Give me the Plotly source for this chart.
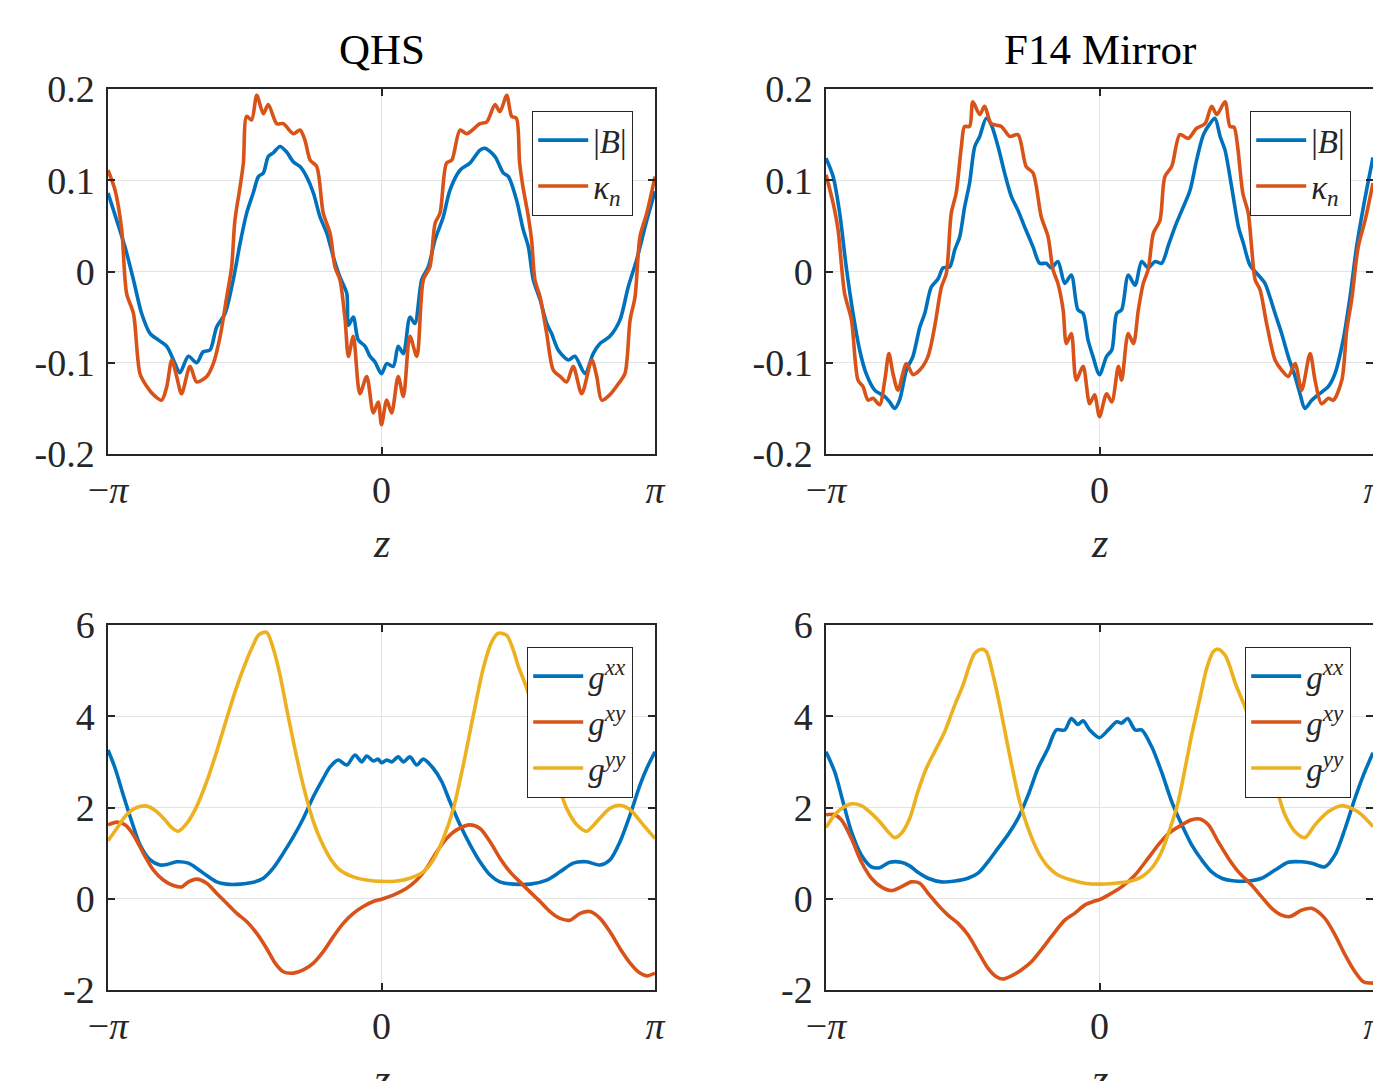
import numpy as np
import plotly.graph_objects as go

# ---------------- data (z given in units of pi) ----------------
QHS_B = [(-1.0, 0.086), (-0.968, 0.056), (-0.938, 0.027), (-0.907, -0.009), (-0.877, -0.046),
         (-0.846, -0.068), (-0.816, -0.075), (-0.785, -0.082), (-0.755, -0.101), (-0.737, -0.111),
         (-0.706, -0.093), (-0.676, -0.100), (-0.652, -0.088), (-0.627, -0.086), (-0.603, -0.061),
         (-0.572, -0.046), (-0.542, -0.009), (-0.517, 0.031), (-0.493, 0.064), (-0.469, 0.086),
         (-0.450, 0.104), (-0.432, 0.108), (-0.414, 0.126), (-0.396, 0.130), (-0.371, 0.137),
         (-0.347, 0.131), (-0.322, 0.120), (-0.298, 0.115), (-0.274, 0.104), (-0.249, 0.086),
         (-0.225, 0.060), (-0.200, 0.042), (-0.176, 0.016), (-0.152, -0.006), (-0.127, -0.024),
         (-0.121, -0.059), (-0.103, -0.050), (-0.085, -0.075), (-0.060, -0.082), (-0.042, -0.093),
         (-0.024, -0.099), (0.0, -0.112), (0.019, -0.101), (0.043, -0.104), (0.061, -0.082),
         (0.080, -0.090), (0.104, -0.050), (0.122, -0.057), (0.147, -0.009), (0.171, 0.005),
         (0.196, 0.035), (0.226, 0.060), (0.250, 0.089), (0.287, 0.111), (0.324, 0.119),
         (0.360, 0.133), (0.378, 0.135), (0.415, 0.126), (0.445, 0.108), (0.464, 0.104),
         (0.494, 0.078), (0.518, 0.046), (0.537, 0.027), (0.555, -0.009), (0.580, -0.031),
         (0.604, -0.057), (0.622, -0.068), (0.646, -0.086), (0.683, -0.097), (0.707, -0.093),
         (0.744, -0.112), (0.774, -0.090), (0.799, -0.079), (0.835, -0.071), (0.872, -0.053),
         (0.902, -0.017), (0.933, 0.013), (0.970, 0.056), (1.0, 0.088)]

QHS_KN = [(-1.0, 0.111), (-0.974, 0.089), (-0.950, 0.046), (-0.932, -0.024), (-0.907, -0.046),
          (-0.883, -0.112), (-0.858, -0.126), (-0.834, -0.135), (-0.804, -0.141), (-0.785, -0.126),
          (-0.767, -0.097), (-0.749, -0.115), (-0.731, -0.134), (-0.700, -0.104), (-0.676, -0.121),
          (-0.639, -0.115), (-0.615, -0.101), (-0.590, -0.071), (-0.566, -0.028), (-0.548, 0.005),
          (-0.536, 0.056), (-0.517, 0.093), (-0.505, 0.119), (-0.493, 0.170), (-0.475, 0.166),
          (-0.456, 0.193), (-0.432, 0.173), (-0.414, 0.183), (-0.383, 0.162), (-0.359, 0.162),
          (-0.322, 0.151), (-0.298, 0.155), (-0.280, 0.144), (-0.261, 0.122), (-0.237, 0.115),
          (-0.213, 0.064), (-0.188, 0.042), (-0.170, 0.005), (-0.152, -0.009), (-0.133, -0.053),
          (-0.121, -0.093), (-0.103, -0.071), (-0.079, -0.134), (-0.054, -0.115), (-0.030, -0.155),
          (-0.012, -0.143), (0.0, -0.168), (0.019, -0.141), (0.037, -0.155), (0.061, -0.115),
          (0.080, -0.137), (0.104, -0.071), (0.129, -0.093), (0.153, -0.009), (0.177, 0.005),
          (0.196, 0.053), (0.214, 0.064), (0.238, 0.119), (0.257, 0.122), (0.287, 0.155),
          (0.312, 0.151), (0.360, 0.162), (0.385, 0.164), (0.415, 0.183), (0.433, 0.175),
          (0.458, 0.193), (0.476, 0.170), (0.493, 0.168), (0.505, 0.119), (0.517, 0.093),
          (0.537, 0.060), (0.549, 0.034), (0.561, -0.009), (0.580, -0.028), (0.604, -0.068),
          (0.628, -0.108), (0.653, -0.115), (0.677, -0.121), (0.701, -0.104), (0.732, -0.134),
          (0.769, -0.097), (0.787, -0.115), (0.805, -0.141), (0.835, -0.135), (0.866, -0.123),
          (0.890, -0.112), (0.909, -0.053), (0.927, -0.028), (0.945, 0.038), (0.970, 0.064),
          (1.0, 0.104)]

F14_B = [(-1.0, 0.124), (-0.974, 0.104), (-0.950, 0.064), (-0.926, 0.005), (-0.901, -0.046),
         (-0.877, -0.086), (-0.853, -0.112), (-0.822, -0.130), (-0.785, -0.137), (-0.767, -0.143),
         (-0.749, -0.150), (-0.731, -0.141), (-0.706, -0.108), (-0.682, -0.093), (-0.657, -0.061),
         (-0.639, -0.046), (-0.615, -0.017), (-0.590, -0.008), (-0.572, 0.004), (-0.548, 0.005),
         (-0.529, 0.024), (-0.511, 0.038), (-0.493, 0.071), (-0.475, 0.097), (-0.456, 0.137),
         (-0.438, 0.148), (-0.414, 0.168), (-0.396, 0.161), (-0.371, 0.137), (-0.347, 0.108),
         (-0.322, 0.082), (-0.298, 0.067), (-0.274, 0.049), (-0.243, 0.027), (-0.219, 0.009),
         (-0.195, 0.009), (-0.176, 0.004), (-0.152, 0.011), (-0.127, -0.013), (-0.103, -0.004),
         (-0.079, -0.042), (-0.060, -0.046), (-0.042, -0.075), (-0.024, -0.093), (0.0, -0.113),
         (0.026, -0.093), (0.045, -0.086), (0.063, -0.046), (0.081, -0.042), (0.105, -0.004),
         (0.130, -0.015), (0.154, 0.011), (0.178, 0.004), (0.203, 0.011), (0.227, 0.009),
         (0.252, 0.029), (0.276, 0.049), (0.301, 0.067), (0.331, 0.089), (0.355, 0.122),
         (0.380, 0.150), (0.404, 0.162), (0.422, 0.168), (0.441, 0.148), (0.459, 0.133),
         (0.483, 0.093), (0.508, 0.049), (0.526, 0.031), (0.550, 0.007), (0.575, -0.002),
         (0.605, -0.013), (0.623, -0.028), (0.642, -0.046), (0.666, -0.068), (0.690, -0.093),
         (0.715, -0.115), (0.733, -0.134), (0.751, -0.150), (0.776, -0.141), (0.800, -0.135),
         (0.837, -0.126), (0.861, -0.112), (0.891, -0.075), (0.916, -0.028), (0.940, 0.027),
         (0.965, 0.071), (1.0, 0.125)]

F14_KN = [(-1.0, 0.106), (-0.974, 0.075), (-0.956, 0.046), (-0.932, -0.024), (-0.907, -0.053),
          (-0.883, -0.119), (-0.865, -0.126), (-0.846, -0.141), (-0.828, -0.139), (-0.804, -0.146),
          (-0.785, -0.119), (-0.770, -0.090), (-0.755, -0.112), (-0.737, -0.130), (-0.706, -0.101),
          (-0.682, -0.113), (-0.657, -0.108), (-0.627, -0.093), (-0.603, -0.061), (-0.578, -0.017),
          (-0.560, -0.002), (-0.542, 0.064), (-0.524, 0.086), (-0.505, 0.137), (-0.493, 0.159),
          (-0.475, 0.159), (-0.463, 0.186), (-0.438, 0.172), (-0.420, 0.181), (-0.396, 0.162),
          (-0.359, 0.159), (-0.328, 0.148), (-0.298, 0.150), (-0.268, 0.115), (-0.243, 0.108),
          (-0.213, 0.060), (-0.188, 0.038), (-0.170, 0.002), (-0.152, -0.013), (-0.133, -0.042),
          (-0.121, -0.079), (-0.103, -0.068), (-0.085, -0.119), (-0.060, -0.104), (-0.036, -0.145),
          (-0.018, -0.135), (0.0, -0.159), (0.026, -0.134), (0.045, -0.143), (0.069, -0.104),
          (0.081, -0.119), (0.105, -0.068), (0.124, -0.079), (0.142, -0.042), (0.160, -0.013),
          (0.178, 0.002), (0.197, 0.042), (0.221, 0.056), (0.239, 0.104), (0.264, 0.115),
          (0.294, 0.150), (0.325, 0.146), (0.355, 0.157), (0.386, 0.162), (0.410, 0.181),
          (0.429, 0.172), (0.459, 0.186), (0.477, 0.159), (0.492, 0.158), (0.505, 0.137),
          (0.524, 0.086), (0.544, 0.064), (0.556, 0.027), (0.569, -0.009), (0.587, -0.020),
          (0.611, -0.057), (0.642, -0.097), (0.666, -0.108), (0.690, -0.115), (0.715, -0.101),
          (0.739, -0.130), (0.770, -0.090), (0.788, -0.119), (0.812, -0.145), (0.837, -0.139),
          (0.855, -0.141), (0.886, -0.119), (0.904, -0.064), (0.922, -0.031), (0.946, 0.027),
          (0.971, 0.056), (1.0, 0.097)]

QHS_GXX = [(-1.0, 3.26), (-0.974, 2.86), (-0.944, 2.27), (-0.913, 1.69), (-0.883, 1.18), (-0.846, 0.85),
           (-0.810, 0.74), (-0.785, 0.75), (-0.749, 0.81), (-0.706, 0.78), (-0.676, 0.67), (-0.639, 0.51),
           (-0.603, 0.37), (-0.566, 0.32), (-0.517, 0.32), (-0.469, 0.36), (-0.432, 0.45), (-0.396, 0.67),
           (-0.359, 1.00), (-0.322, 1.36), (-0.286, 1.76), (-0.249, 2.24), (-0.213, 2.64), (-0.188, 2.89),
           (-0.158, 3.04), (-0.127, 2.93), (-0.097, 3.15), (-0.072, 3.00), (-0.054, 3.13), (-0.030, 3.02),
           (-0.012, 3.06), (0.0, 2.98), (0.019, 3.04), (0.037, 3.00), (0.061, 3.11), (0.080, 3.00),
           (0.104, 3.11), (0.129, 2.93), (0.153, 3.06), (0.189, 2.86), (0.220, 2.57), (0.250, 2.13),
           (0.287, 1.62), (0.324, 1.18), (0.360, 0.81), (0.397, 0.52), (0.433, 0.37), (0.482, 0.32),
           (0.543, 0.32), (0.604, 0.41), (0.653, 0.59), (0.701, 0.78), (0.750, 0.81), (0.799, 0.74),
           (0.835, 0.85), (0.872, 1.25), (0.909, 1.84), (0.945, 2.49), (0.970, 2.86), (1.0, 3.22)]

QHS_GXY = [(-1.0, 1.62), (-0.968, 1.68), (-0.938, 1.62), (-0.907, 1.40), (-0.871, 1.00), (-0.834, 0.63),
           (-0.798, 0.41), (-0.761, 0.29), (-0.731, 0.26), (-0.706, 0.37), (-0.676, 0.43), (-0.639, 0.34),
           (-0.603, 0.12), (-0.566, -0.10), (-0.529, -0.32), (-0.493, -0.50), (-0.456, -0.76), (-0.420, -1.09),
           (-0.389, -1.41), (-0.359, -1.60), (-0.322, -1.63), (-0.286, -1.56), (-0.249, -1.41), (-0.213, -1.16),
           (-0.176, -0.83), (-0.140, -0.54), (-0.103, -0.32), (-0.067, -0.17), (-0.030, -0.06), (0.0, -0.01),
           (0.043, 0.08), (0.092, 0.23), (0.129, 0.41), (0.165, 0.67), (0.202, 1.03), (0.238, 1.32),
           (0.275, 1.51), (0.324, 1.62), (0.360, 1.54), (0.397, 1.25), (0.433, 0.89), (0.470, 0.59),
           (0.506, 0.37), (0.543, 0.15), (0.580, -0.06), (0.616, -0.28), (0.653, -0.43), (0.689, -0.47),
           (0.726, -0.32), (0.762, -0.28), (0.799, -0.43), (0.835, -0.72), (0.872, -1.09), (0.909, -1.41),
           (0.945, -1.63), (0.970, -1.69), (1.0, -1.63)]

QHS_GYY = [(-1.0, 1.27), (-0.968, 1.54), (-0.932, 1.84), (-0.895, 2.00), (-0.858, 2.03), (-0.822, 1.91),
           (-0.792, 1.73), (-0.767, 1.56), (-0.743, 1.48), (-0.712, 1.65), (-0.676, 2.02), (-0.639, 2.57),
           (-0.603, 3.22), (-0.566, 3.95), (-0.529, 4.65), (-0.493, 5.23), (-0.469, 5.56), (-0.450, 5.78),
           (-0.420, 5.84), (-0.396, 5.49), (-0.371, 4.90), (-0.347, 4.17), (-0.322, 3.44), (-0.298, 2.78),
           (-0.274, 2.20), (-0.249, 1.69), (-0.225, 1.32), (-0.188, 0.89), (-0.152, 0.63), (-0.103, 0.48),
           (-0.054, 0.41), (0.0, 0.38), (0.056, 0.39), (0.104, 0.45), (0.153, 0.59), (0.189, 0.85),
           (0.226, 1.32), (0.263, 1.98), (0.299, 2.93), (0.336, 4.03), (0.372, 5.05), (0.403, 5.63),
           (0.427, 5.82), (0.458, 5.77), (0.482, 5.45), (0.500, 5.10), (0.529, 4.65), (0.566, 3.95),
           (0.603, 3.22), (0.641, 2.60), (0.659, 2.27), (0.677, 1.98), (0.714, 1.62), (0.750, 1.48),
           (0.787, 1.69), (0.835, 1.98), (0.872, 2.05), (0.909, 1.95), (0.957, 1.62), (1.0, 1.32)]

F14_GXX = [(-1.0, 3.22), (-0.968, 2.78), (-0.938, 2.13), (-0.907, 1.47), (-0.871, 0.96), (-0.834, 0.70),
           (-0.804, 0.68), (-0.767, 0.80), (-0.725, 0.80), (-0.694, 0.72), (-0.664, 0.58), (-0.627, 0.45),
           (-0.578, 0.37), (-0.529, 0.39), (-0.481, 0.45), (-0.444, 0.56), (-0.408, 0.81), (-0.371, 1.11),
           (-0.335, 1.40), (-0.298, 1.76), (-0.261, 2.27), (-0.225, 2.86), (-0.188, 3.30), (-0.158, 3.70),
           (-0.127, 3.70), (-0.103, 3.95), (-0.079, 3.82), (-0.060, 3.90), (-0.036, 3.70), (0.0, 3.53),
           (0.032, 3.70), (0.063, 3.88), (0.081, 3.85), (0.103, 3.95), (0.130, 3.70), (0.154, 3.70),
           (0.191, 3.33), (0.227, 2.78), (0.264, 2.13), (0.301, 1.62), (0.337, 1.18), (0.374, 0.85),
           (0.410, 0.59), (0.447, 0.45), (0.495, 0.39), (0.544, 0.39), (0.593, 0.45), (0.642, 0.63),
           (0.690, 0.80), (0.739, 0.81), (0.776, 0.78), (0.824, 0.70), (0.861, 0.96), (0.898, 1.54),
           (0.934, 2.20), (0.965, 2.71), (1.0, 3.20)]

F14_GXY = [(-1.0, 1.84), (-0.974, 1.85), (-0.944, 1.73), (-0.907, 1.32), (-0.871, 0.81), (-0.834, 0.45),
           (-0.798, 0.26), (-0.761, 0.18), (-0.725, 0.26), (-0.688, 0.37), (-0.657, 0.34), (-0.627, 0.12),
           (-0.590, -0.14), (-0.554, -0.36), (-0.517, -0.54), (-0.481, -0.79), (-0.444, -1.16), (-0.408, -1.52),
           (-0.377, -1.71), (-0.353, -1.76), (-0.322, -1.69), (-0.286, -1.56), (-0.249, -1.38), (-0.213, -1.12),
           (-0.176, -0.83), (-0.127, -0.47), (-0.091, -0.32), (-0.054, -0.14), (-0.018, -0.05), (0.0, -0.02),
           (0.032, 0.08), (0.081, 0.26), (0.130, 0.52), (0.178, 0.89), (0.215, 1.18), (0.252, 1.43),
           (0.301, 1.62), (0.337, 1.73), (0.367, 1.75), (0.398, 1.62), (0.434, 1.25), (0.471, 0.89),
           (0.508, 0.59), (0.556, 0.30), (0.593, 0.04), (0.630, -0.21), (0.666, -0.36), (0.697, -0.39),
           (0.739, -0.25), (0.776, -0.21), (0.824, -0.43), (0.861, -0.79), (0.898, -1.23), (0.934, -1.60),
           (0.965, -1.82), (1.0, -1.85)]

F14_GYY = [(-1.0, 1.56), (-0.968, 1.84), (-0.938, 2.00), (-0.907, 2.08), (-0.871, 2.04), (-0.834, 1.87),
           (-0.798, 1.65), (-0.773, 1.47), (-0.749, 1.34), (-0.725, 1.43), (-0.694, 1.76), (-0.664, 2.35),
           (-0.633, 2.86), (-0.603, 3.22), (-0.566, 3.66), (-0.529, 4.25), (-0.499, 4.68), (-0.475, 5.12),
           (-0.456, 5.38), (-0.432, 5.47), (-0.414, 5.42), (-0.389, 4.90), (-0.365, 4.25), (-0.341, 3.52),
           (-0.316, 2.78), (-0.292, 2.13), (-0.261, 1.54), (-0.225, 1.03), (-0.188, 0.70), (-0.152, 0.52),
           (-0.103, 0.41), (-0.054, 0.34), (0.0, 0.32), (0.057, 0.34), (0.105, 0.37), (0.154, 0.48),
           (0.191, 0.67), (0.227, 1.03), (0.258, 1.54), (0.288, 2.13), (0.313, 2.86), (0.337, 3.59),
           (0.367, 4.39), (0.392, 5.05), (0.416, 5.42), (0.434, 5.47), (0.459, 5.34), (0.475, 5.12),
           (0.499, 4.68), (0.529, 4.25), (0.566, 3.66), (0.603, 3.22), (0.630, 2.75), (0.654, 2.27),
           (0.678, 1.84), (0.715, 1.47), (0.751, 1.34), (0.788, 1.62), (0.837, 1.91), (0.886, 2.04),
           (0.922, 1.98), (0.959, 1.84), (1.0, 1.58)]

PANEL_TITLES = ["QHS", "F14 Mirror"]
TOP_NAMES = ["|<i>B</i>|", "<i>κ</i><sub><i>n</i></sub>"]
BOT_NAMES = ["<i>g</i><sup><i>xx</i></sup>", "<i>g</i><sup><i>xy</i></sup>", "<i>g</i><sup><i>yy</i></sup>"]
X_TICKVALS = [-np.pi, 0.0, np.pi]
X_TICKTEXT = ["−<i>π</i>", "0", "<i>π</i>"]
TOP_YTICKS = [-0.2, -0.1, 0.0, 0.1, 0.2]
TOP_YTEXT = ["-0.2", "-0.1", "0", "0.1", "0.2"]
BOT_YTICKS = [-2, 0, 2, 4, 6]
BOT_YTEXT = ["-2", "0", "2", "4", "6"]

# ---------------- style ----------------
BLUE, ORANGE, YELLOW = "#0072BD", "#D95319", "#EDB120"
FONT = "Liberation Serif"
INK = "#262626"
OFF = 8                     # page body margin offset
W, H = 1381 - OFF, 1081 - OFF


def px(xp):
    return (xp - OFF) / W


def py(yp):
    return 1 - (yp - OFF) / H


def xs(series):
    return np.array([p[0] for p in series]) * np.pi


def ys(series):
    return np.array([p[1] for p in series])


fig = go.Figure()

panels = [
    ([QHS_B, QHS_KN], [BLUE, ORANGE], TOP_NAMES, "", "legend"),
    ([F14_B, F14_KN], [BLUE, ORANGE], TOP_NAMES, "2", "legend2"),
    ([QHS_GXX, QHS_GXY, QHS_GYY], [BLUE, ORANGE, YELLOW], BOT_NAMES, "3", "legend3"),
    ([F14_GXX, F14_GXY, F14_GYY], [BLUE, ORANGE, YELLOW], BOT_NAMES, "4", "legend4"),
]

for series_list, colors, names, suf, leg in panels:
    for s, c, n in zip(series_list, colors, names):
        fig.add_trace(go.Scatter(
            x=xs(s), y=ys(s), mode="lines", name=n,
            line=dict(color=c, width=3.6, shape="spline", smoothing=0.8),
            xaxis="x" + suf, yaxis="y" + suf, legend=leg, showlegend=True))

X_DOMS = [[px(108), px(655)], [px(826), px(1373)]]
Y_DOMS = [[py(454), py(89)], [py(990), py(625)]]

axis_common = dict(showline=True, linecolor=INK, linewidth=1.5, mirror="ticks",
                   ticks="inside", ticklen=7, tickwidth=1.5, tickcolor=INK,
                   showgrid=True, gridcolor="#e3e3e3", gridwidth=1, zeroline=False,
                   automargin=False, ticklabeloverflow="allow",
                   tickfont=dict(family=FONT, size=38, color=INK))

layout = dict(template="none", width=W, height=H, margin=dict(l=0, r=0, t=0, b=0, pad=0),
              paper_bgcolor="white", plot_bgcolor="white", showlegend=True)

for suf, row, col in [("", 0, 0), ("2", 0, 1), ("3", 1, 0), ("4", 1, 1)]:
    layout["xaxis" + suf] = dict(axis_common, domain=X_DOMS[col], range=[-np.pi, np.pi],
                                 tickmode="array", tickvals=X_TICKVALS, ticktext=X_TICKTEXT,
                                 anchor="y" + suf, ticklabelstandoff=2)
    if row == 0:
        yt, ytx, yr = TOP_YTICKS, TOP_YTEXT, [-0.2, 0.2]
    else:
        yt, ytx, yr = BOT_YTICKS, BOT_YTEXT, [-2, 6]
    layout["yaxis" + suf] = dict(axis_common, domain=Y_DOMS[row], range=yr,
                                 tickmode="array", tickvals=yt, ticktext=ytx,
                                 anchor="x" + suf, ticklabelstandoff=4)

leg_common = dict(xanchor="right", yanchor="top", bgcolor="white", bordercolor=INK,
                  borderwidth=1.2, font=dict(family=FONT, size=33, color=INK),
                  itemwidth=50, tracegroupgap=0)
layout["legend"] = dict(leg_common, x=px(633), y=py(111))
layout["legend2"] = dict(leg_common, x=px(1351), y=py(111))
layout["legend3"] = dict(leg_common, x=px(633), y=py(647))
layout["legend4"] = dict(leg_common, x=px(1351), y=py(647))

annotations = []
for j, t in enumerate(PANEL_TITLES):
    cx = (X_DOMS[j][0] + X_DOMS[j][1]) / 2
    annotations.append(dict(text=t, x=cx, y=py(50), xref="paper", yref="paper",
                            showarrow=False, xanchor="center", yanchor="middle",
                            font=dict(family=FONT, size=43, color="black")))
    for yc in (543, 1079):
        annotations.append(dict(text="<i>z</i>", x=cx, y=py(yc), xref="paper", yref="paper",
                                showarrow=False, xanchor="center", yanchor="middle",
                                font=dict(family=FONT, size=42, color=INK)))
layout["annotations"] = annotations

fig.update_layout(**layout)
fig.write_html("out.html")
